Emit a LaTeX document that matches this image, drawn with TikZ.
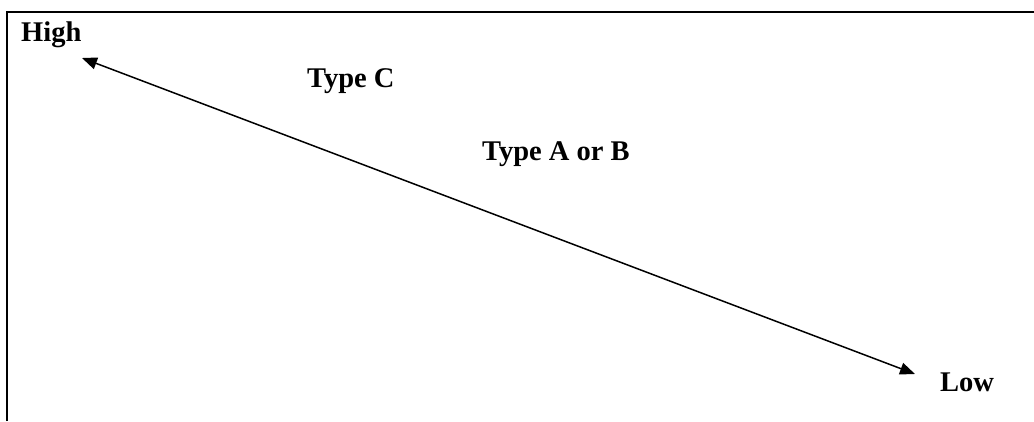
\documentclass[tikz,border=0pt]{standalone}
\usepackage{fontspec}
\setmainfont{Liberation Serif}
\usetikzlibrary{arrows.meta}
\begin{document}
\begin{tikzpicture}[x=1pt,y=-1pt,
  lbl/.style={font=\fontsize{28.5}{30}\selectfont\bfseries, anchor=base west, inner sep=0pt},
  frame/.style={line width=2.5pt},
  dbl/.style={line width=1.5pt, {Triangle[length=15pt,width=12pt]}-{Triangle[length=15pt,width=12pt]}}]
\useasboundingbox (0,0) rectangle (1034,421);
\draw[frame] (7,421) -- (7,12) -- (1034,12);
\node[lbl] (high) at (21,41) {High};
\node[lbl] (low) at (940,391.5) {Low};
\node[lbl] (typec) at (307,87) {Type C};
\node[lbl] (typeab) at (482,160) {Type A or B};
\coordinate (hi) at (82,58);
\coordinate (lo) at (915,374);
\draw[dbl] (hi) -- (lo);
\end{tikzpicture}
\end{document}
